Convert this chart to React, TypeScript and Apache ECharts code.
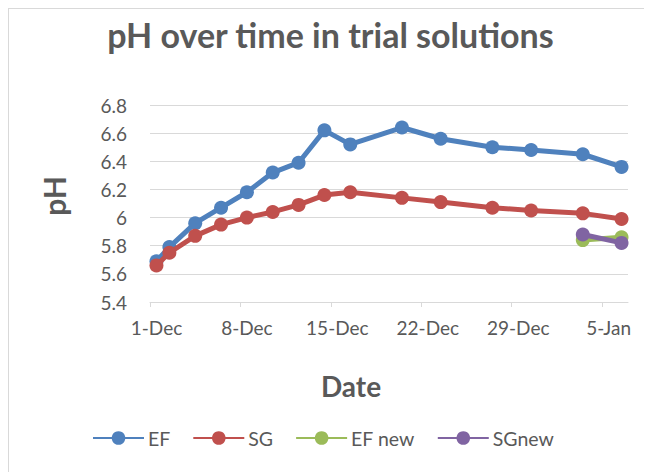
import React, { useEffect, useRef } from "react";
import * as echarts from "echarts";

const dates = [
  "2015-12-01", "2015-12-02", "2015-12-04", "2015-12-06", "2015-12-08",
  "2015-12-10", "2015-12-12", "2015-12-14", "2015-12-16", "2015-12-20",
  "2015-12-23", "2015-12-27", "2015-12-30", "2016-01-03", "2016-01-06",
];
const efValues = [5.69, 5.79, 5.96, 6.07, 6.18, 6.32, 6.39, 6.62, 6.52, 6.64, 6.56, 6.5, 6.48, 6.45, 6.36];
const sgValues = [5.66, 5.75, 5.87, 5.95, 6.0, 6.04, 6.09, 6.16, 6.18, 6.14, 6.11, 6.07, 6.05, 6.03, 5.99];
const newDates = ["2016-01-03", "2016-01-06"];
const efNewValues = [5.84, 5.86];
const sgNewValues = [5.88, 5.82];
const seriesNames = ["EF", "SG", "EF new", "SGnew"];
const colors = ["#4f81bd", "#c0504d", "#9bbb59", "#8064a2"];
const axisStart = "2015-12-01";
const axisEnd = "2016-01-07";
const monthNames = ["Jan", "Feb", "Mar", "Apr", "May", "Jun", "Jul", "Aug", "Sep", "Oct", "Nov", "Dec"];
const yMin = 5.4;
const yMax = 6.8;
const yStep = 0.2;
const xStepDays = 7;

const DAY = 86400000;
const dayIndex = (d: string) => (Date.parse(d) - Date.parse(axisStart)) / DAY;
const toPoints = (ds: string[], vs: number[]) => ds.map((d, i) => [dayIndex(d) + 0.5, vs[i]]);

const FONT = "Lato";
const TEXT = "#595959";

export default function App() {
  const ref = useRef<HTMLDivElement>(null);
  useEffect(() => {
    if (!ref.current) return;
    const chart = echarts.init(ref.current, undefined, { renderer: "svg" });
    const mk = (i: number, pts: number[][]) => ({
      name: seriesNames[i],
      type: "line",
      data: pts,
      symbol: "circle",
      symbolSize: 14,
      showSymbol: true,
      color: colors[i],
      lineStyle: { width: 5, color: colors[i] },
      itemStyle: { color: colors[i] },
      z: 2 + i,
    });
    chart.setOption({
      animation: false,
      title: {
        text: "pH over time in trial solutions",
        left: "center",
        top: 3,
        textStyle: { fontFamily: FONT, fontWeight: "bold", fontSize: 34, color: TEXT },
      },
      grid: { left: 141, right: 24, top: 96, bottom: 170 },
      legend: {
        data: seriesNames,
        left: 83,
        top: 419,
        padding: 0,
        itemWidth: 51,
        itemHeight: 17,
        itemGap: 22,
        textStyle: { fontFamily: FONT, fontSize: 19.5, color: TEXT, padding: [0, 0, 0, -1] },
      },
      xAxis: {
        type: "value",
        min: 0,
        max: dayIndex(axisEnd),
        interval: xStepDays,
        axisLine: { show: true, lineStyle: { color: "#d9d9d9", width: 1 } },
        axisTick: { show: true, length: 5, lineStyle: { color: "#d9d9d9" } },
        splitLine: { show: false },
        axisLabel: {
          showMaxLabel: false,
          margin: 16,
          padding: [0, 0, 0, 13],
          fontFamily: FONT,
          fontSize: 19,
          color: TEXT,
          formatter: (v: number) => {
            const t = new Date(Date.parse(axisStart) + v * DAY);
            return `${t.getUTCDate()}-${monthNames[t.getUTCMonth()]}`;
          },
        },
      },
      yAxis: {
        type: "value",
        min: yMin,
        max: yMax,
        interval: yStep,
        axisLine: { show: false },
        axisTick: { show: false },
        splitLine: { show: true, lineStyle: { color: "#d9d9d9", width: 1 } },
        axisLabel: { margin: 23, fontFamily: FONT, fontSize: 19, color: TEXT },
      },
      graphic: [
        {
          type: "text",
          x: 45,
          y: 187,
          rotation: Math.PI / 2,
          style: {
            text: "pH",
            fontFamily: FONT,
            fontWeight: "bold",
            fontSize: 30,
            fill: TEXT,
            textAlign: "center",
            textVerticalAlign: "middle",
          },
        },
        {
          type: "text",
          x: 342,
          y: 377,
          style: {
            text: "Date",
            fontFamily: FONT,
            fontWeight: "bold",
            fontSize: 28,
            fill: TEXT,
            textAlign: "center",
            textVerticalAlign: "middle",
          },
        },
      ],
      series: [
        mk(0, toPoints(dates, efValues)),
        mk(1, toPoints(dates, sgValues)),
        mk(2, toPoints(newDates, efNewValues)),
        mk(3, toPoints(newDates, sgNewValues)),
      ],
    });
    return () => chart.dispose();
  }, []);
  return (
    <div
      style={{
        width: 644,
        height: 464,
        boxSizing: "border-box",
        borderTop: "1px solid #d9d9d9",
        borderLeft: "1px solid #d9d9d9",
        background: "#fff",
      }}
    >
      <div ref={ref} style={{ width: 643, height: 463 }} />
    </div>
  );
}
